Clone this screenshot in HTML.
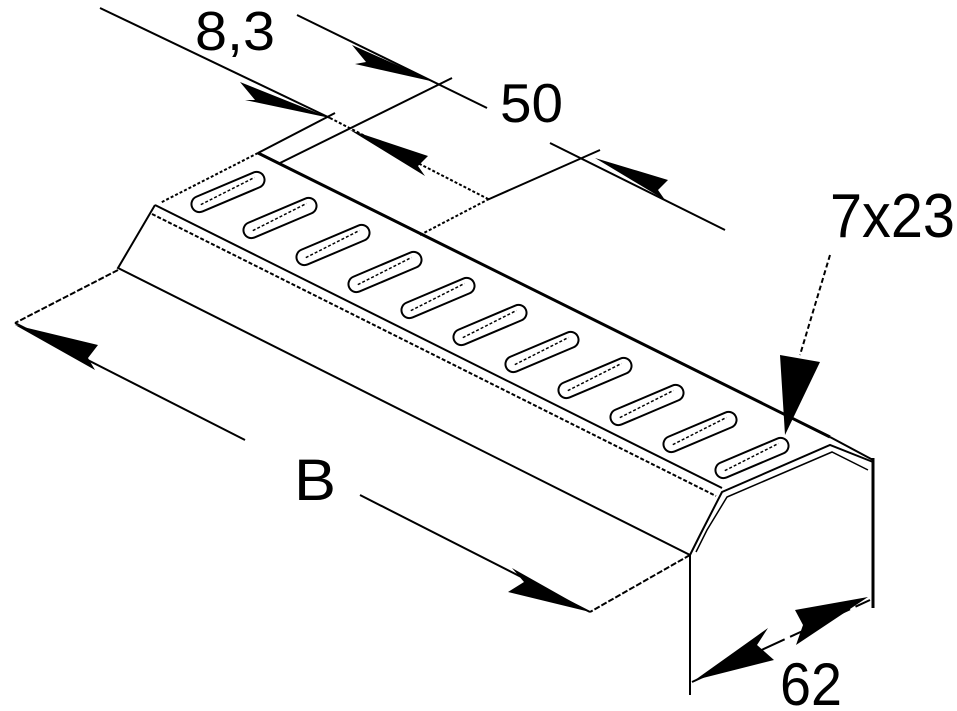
<!DOCTYPE html>
<html><head><meta charset="utf-8"><style>
html,body{margin:0;padding:0;background:#fff;}
svg{display:block}
text{font-family:"Liberation Sans",sans-serif;fill:#000}
</style></head><body>
<svg width="957" height="711" viewBox="0 0 957 711" xmlns="http://www.w3.org/2000/svg">
<defs>
<g id="slot"><g transform="rotate(-23)"><rect x="-39" y="-8" width="78" height="16" rx="8" fill="none" stroke="#000" stroke-width="2"/><line x1="-30" y1="1" x2="30" y2="-3" stroke="#000" stroke-width="1.5" stroke-dasharray="3,2"/></g></g>
</defs>
<g stroke="#000" fill="none" stroke-width="2">
<line x1="258" y1="153" x2="830" y2="437" stroke-width="3"/>
<line x1="258" y1="153" x2="160" y2="203" stroke-dasharray="3,2"/>
<line x1="155" y1="205" x2="722" y2="488"/>
<line x1="152" y1="214" x2="716" y2="496" stroke-dasharray="4,2"/>
<polyline points="155,205 118,268 690,555"/>
<line x1="118" y1="270" x2="15" y2="323" stroke-dasharray="6,2"/>
<polyline points="690,555 700,535 722,492 830,445 873,462"/>
<polyline points="696,552 707,530 727,497 832,452 868,470" stroke-width="1.5"/>
<line x1="830" y1="437" x2="873" y2="460"/>
<line x1="690" y1="555" x2="690" y2="695"/>
<line x1="873" y1="458" x2="873" y2="608" stroke-width="3"/>
<line x1="690" y1="555" x2="590" y2="612" stroke-dasharray="6,2"/>
<line x1="100" y1="8" x2="330" y2="118"/>
<line x1="330" y1="118" x2="490" y2="200" stroke-dasharray="3,2"/>
<line x1="297" y1="15" x2="487" y2="108"/>
<line x1="258" y1="153" x2="335" y2="113"/>
<line x1="280" y1="163" x2="452" y2="78"/>
<line x1="550" y1="143" x2="725" y2="230"/>
<line x1="487" y1="200" x2="600" y2="150"/>
<line x1="420" y1="235" x2="487" y2="200" stroke-dasharray="3,2"/>
<line x1="830" y1="255" x2="800" y2="355" stroke-dasharray="5,3"/>
<line x1="15" y1="323" x2="245" y2="440"/>
<line x1="360" y1="495" x2="590" y2="612"/>
<line x1="692" y1="682" x2="870" y2="600" stroke-dasharray="30,6"/>
</g>
<g fill="#000">
<polygon points="330,118 240,82 255,100 245,100"/>
<polygon points="435,82 352,45 366,62 355,64"/>
<polygon points="350,130 428,156 418,166 425,176"/>
<polygon points="595,158 668,180 658,190 665,200"/>
<polygon points="785,435 780,355 820,362"/>
<polygon points="15,325 98,345 88,358 95,370"/>
<polygon points="590,612 512,568 524,582 508,592"/>
<polygon points="695,680 768,628 757,645 774,660"/>
<polygon points="868,597 795,610 803,625 796,645"/>
</g>
<g>
<use href="#slot" x="228" y="192"/>
<use href="#slot" x="280" y="218"/>
<use href="#slot" x="333" y="245"/>
<use href="#slot" x="385" y="272"/>
<use href="#slot" x="438" y="298"/>
<use href="#slot" x="490" y="325"/>
<use href="#slot" x="542" y="352"/>
<use href="#slot" x="595" y="378"/>
<use href="#slot" x="647" y="405"/>
<use href="#slot" x="700" y="432"/>
<use href="#slot" x="752" y="458"/>
</g>
<text x="195" y="50" font-size="55" textLength="80" lengthAdjust="spacingAndGlyphs">8,3</text>
<text x="500" y="122" font-size="55" textLength="63" lengthAdjust="spacingAndGlyphs">50</text>
<text x="830" y="237" font-size="62" textLength="125" lengthAdjust="spacingAndGlyphs">7x23</text>
<text x="294" y="500" font-size="58" textLength="42" lengthAdjust="spacingAndGlyphs">B</text>
<text x="780" y="705" font-size="60" textLength="62" lengthAdjust="spacingAndGlyphs">62</text>
</svg>
</body></html>
